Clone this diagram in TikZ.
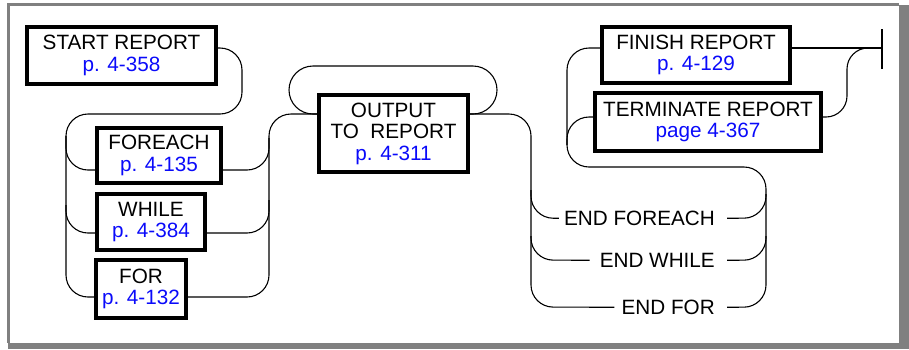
\documentclass[tikz,border=0pt]{standalone}
\usepackage{fontspec}
\setmainfont{Liberation Sans}
\definecolor{refblue}{RGB}{10,10,250}
\definecolor{framegray}{RGB}{128,128,128}
\begin{document}
\begin{tikzpicture}[x=1pt,y=-1pt,
  box/.style={draw=black,line width=3.8pt,inner sep=0pt,align=center,
    font=\fontsize{20.7}{21.5}\selectfont},
  lbl/.style={inner sep=0pt,font=\fontsize{20.7}{21.5}\selectfont},
  rail/.style={line width=1.1pt,rounded corners=22pt},
  pg/.style={color=refblue}]
\useasboundingbox (0,0) rectangle (909,349);
% frame
\fill[framegray] (899,5) rectangle (909,349);
\fill[framegray] (8,343) rectangle (909,349);
\draw[framegray,line width=2.5pt] (8.5,343) -- (8.5,4.5) -- (899,4.5);

% boxes
\node[box,minimum width=189pt,minimum height=57pt] (start) at (121.5,55.5)
  {START REPORT\\\textcolor{refblue}{p. 4-358}};
\node[box,minimum width=124pt,minimum height=55pt] (foreach) at (159,155.5)
  {FOREACH\\\textcolor{refblue}{p. 4-135}};
\node[box,minimum width=108pt,minimum height=56pt] (while) at (151,222)
  {WHILE\\\textcolor{refblue}{p. 4-384}};
\node[box,minimum width=90pt,minimum height=58pt] (for) at (141,289)
  {FOR\\\textcolor{refblue}{p. 4-132}};
\node[box,minimum width=149pt,minimum height=77pt] (output) at (393.5,133.5)
  {OUTPUT\\TO~ REPORT\\\textcolor{refblue}{p. 4-311}};
\node[box,minimum width=188pt,minimum height=56pt] (finish) at (696,55)
  {FINISH REPORT\\\textcolor{refblue}{p. 4-129}};
\node[box,minimum width=226pt,minimum height=58pt] (term) at (708,122)
  {TERMINATE REPORT\\\textcolor{refblue}{page 4-367}};

% END labels
\node[lbl,anchor=base east] (efe) at (715,225.4) {END FOREACH};
\node[lbl,anchor=base east] (ewh) at (715,267.4) {END WHILE};
\node[lbl,anchor=base east] (efo) at (715,314.4) {END FOR};

\coordinate (bar) at (882,48);

% start -> left rail -> FOR
\draw[rail] ([yshift=7.5pt]start.east) -- (242,48) -- (242,114) -- (66,114)
  -- (66,297) -- ([yshift=-8pt]for.west);
\draw[rail] (66,136) -- (66,170) -- ([yshift=-14.5pt]foreach.west);
\draw[rail] (66,205) -- (66,233) -- ([yshift=-11pt]while.west);

% right rail -> OUTPUT
\draw[rail] ([yshift=-8pt]for.east) -- (269,297) -- (269,114)
  -- ([yshift=19.5pt]output.west);
\draw[rail] ([yshift=-14.5pt]foreach.east) -- (269,170) -- (269,138);
\draw[rail] ([yshift=-11pt]while.east) -- (269,233) -- (269,200);

% loop over OUTPUT
\draw[rail,rounded corners=24pt] ([yshift=19.5pt]output.west) -- (289,114)
  -- (289,66) -- (497,66) -- (497,114) -- ([yshift=19.5pt]output.east);

% OUTPUT -> END branches
\draw[rail] ([yshift=19.5pt]output.east) -- (531,114) -- (531,307)
  -- ([xshift=-7pt]efo.west);
\draw[rail] (531,190) -- (531,218) -- ([xshift=-5pt]efe.west);
\draw[rail] (531,236) -- (531,260) -- ([xshift=-10pt]ewh.west);

% END branches -> finish / terminate
\draw[rail] ([xshift=12pt]efe.east) -- (766,218) -- (766,167) -- (567,167)
  -- (567,48) -- ([yshift=7pt]finish.west);
\draw[rail] ([xshift=12pt]ewh.east) -- (766,260) -- (766,194);
\draw[rail] ([xshift=12pt]efo.east) -- (766,307) -- (766,236);
\draw[rail] (567,145) -- (567,117) -- ([yshift=5pt]term.west);

% exits
\draw[rail] ([yshift=7pt]finish.east) -- (bar);
\draw[rail,rounded corners=21pt] ([yshift=5pt]term.east) -- (847,117)
  -- (847,48) -- (bar);
\draw[line width=1.2pt] ([yshift=-21pt]bar) -- ([yshift=19pt]bar);
\end{tikzpicture}
\end{document}
